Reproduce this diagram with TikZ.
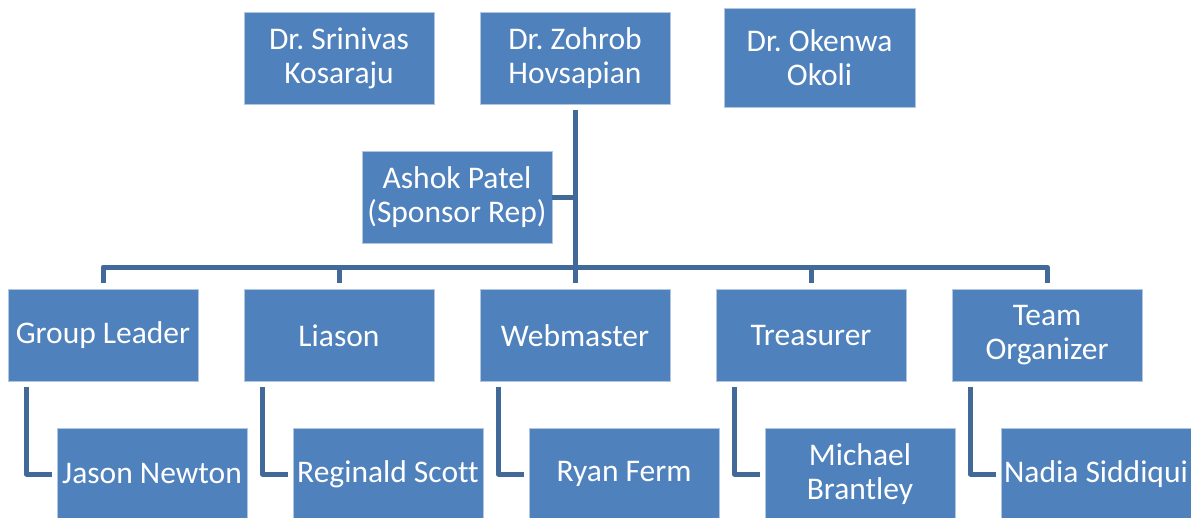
\documentclass[tikz,border=0pt]{standalone}
\usepackage{fontspec}
\setmainfont{Carlito}[Ligatures=NoCommon]
\frenchspacing
\definecolor{boxblue}{HTML}{4F81BD}
\definecolor{linkblue}{HTML}{41699A}
\begin{document}
\begin{tikzpicture}[x=1pt,y=-1pt,
  box/.style={rectangle, fill=boxblue, draw=white!55!boxblue, line width=0.8pt,
    minimum width=190pt, minimum height=92pt, inner sep=0pt, text=white,
    align=center, font=\fontsize{31.5}{34}\selectfont},
  link/.style={draw=linkblue, line width=5pt, line join=round}]
\useasboundingbox (0,0) rectangle (1191,517);
% top row
\node[box] (srinivas) at (339,58) {Dr. Srinivas\\Kosaraju};
\node[box] (zohrob) at (575,58) {Dr. Zohrob\\Hovsapian};
\node[box, minimum width=191pt, minimum height=99pt] (okenwa) at (819.5,57.5) {Dr. Okenwa\\Okoli};
\node[box] (ashok) at (457,197) {Ashok Patel\\(Sponsor Rep)};
% middle row
\node[box] (gl) at (103,335.5) {Group Leader};
\node[box] (li) at (339,335.5) {Liason};
\node[box] (wm) at (575,335.5) {Webmaster};
\node[box] (tr) at (811,335.5) {Treasurer};
\node[box] (to) at (1047,335.5) {Team\\Organizer};
% bottom row
\node[box] (jason) at (152,474) {Jason Newton};
\node[box] (reginald) at (388,474) {Reginald Scott};
\node[box] (ryan) at (624,474) {Ryan Ferm};
\node[box] (michael) at (860,474) {Michael\\Brantley};
\node[box] (nadia) at (1096,474) {Nadia Siddiqui};
% connectors
\coordinate (bar) at (575,267);
\draw[link, shorten <=6pt, shorten >=6pt] (zohrob.south) -- (wm.north);
\draw[link] (ashok.east) -- (ashok.east -| zohrob.south);
\draw[link, shorten >=6pt] (bar) -| (gl.north);
\draw[link, shorten >=6pt] (bar) -| (li.north);
\draw[link, shorten >=6pt] (bar) -| (tr.north);
\draw[link, shorten >=6pt] (bar) -| (to.north);
\draw[link, shorten <=5pt, shorten >=5pt] ([xshift=19pt]gl.south west) |- (jason.west);
\draw[link, shorten <=5pt, shorten >=5pt] ([xshift=19pt]li.south west) |- (reginald.west);
\draw[link, shorten <=5pt, shorten >=5pt] ([xshift=19pt]wm.south west) |- (ryan.west);
\draw[link, shorten <=5pt, shorten >=5pt] ([xshift=19pt]tr.south west) |- (michael.west);
\draw[link, shorten <=5pt, shorten >=5pt] ([xshift=19pt]to.south west) |- (nadia.west);
\end{tikzpicture}
\end{document}
